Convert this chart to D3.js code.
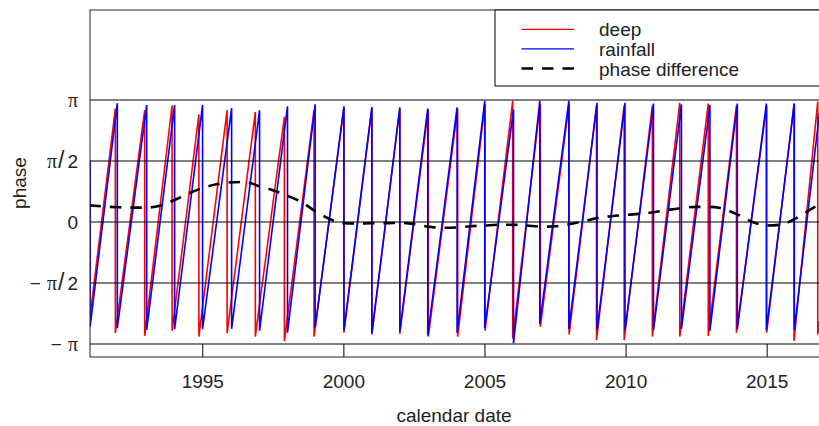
<!DOCTYPE html>
<html>
<head>
<meta charset="utf-8">
<script src="https://cdn.jsdelivr.net/npm/d3@7"></script>
<style>
body { margin: 0; background: #fff; }
svg { display: block; font-family: "Liberation Sans", Arial, sans-serif; }
</style>
</head>
<body>
<svg id="drawing_region"></svg>
<script>
// wrap points of each series: [date, phase just before wrap, phase just after wrap]
const deepStart = [1991.02, -2.45];
const deepWraps = [
    [1991.92, 2.92, -2.86], [1992.96, 2.88, -2.93], [1993.93, 3.00, -2.80],
    [1994.88, 2.77, -2.95], [1995.88, 2.88, -2.86], [1996.88, 2.83, -2.95],
    [1997.91, 2.71, -3.07], [1998.96, 2.88, -2.95], [2000.02, 2.95, -2.85],
    [2001.01, 2.92, -2.90], [2002.00, 2.92, -2.88], [2003.01, 2.90, -2.95],
    [2004.05, 2.92, -2.95], [2005.02, 3.05, -2.80], [2006.00, 3.12, -3.00],
    [2006.98, 3.05, -2.70], [2008.00, 3.05, -2.90], [2008.97, 3.00, -3.04],
    [2009.95, 3.00, -3.04], [2010.95, 3.00, -2.95], [2011.92, 3.07, -2.95],
    [2012.93, 3.05, -2.93], [2013.93, 3.00, -2.85], [2015.00, 3.00, -2.85],
    [2015.97, 3.05, -3.06], [2016.81, 3.10, -2.90]
];
const deepEnd = [2016.87, -2.55];

const rainStart = [1991.02, 1.57];
const rainWraps = [
    [1991.025, 1.57, -2.70],
    [1991.99, 3.06, -2.73], [1993.03, 3.01, -2.78], [1994.02, 3.01, -2.76],
    [1995.01, 3.01, -2.76], [1996.04, 2.93, -2.75], [1997.03, 2.88, -2.80],
    [1998.02, 2.98, -2.85], [1999.00, 3.03, -2.72], [2000.02, 2.98, -2.79],
    [2001.01, 2.96, -2.86], [2002.00, 2.95, -2.82], [2002.99, 2.92, -2.92],
    [2004.03, 2.95, -2.85], [2005.01, 3.12, -2.73], [2006.03, 2.90, -3.12],
    [2006.96, 3.12, -2.62], [2007.99, 3.12, -2.76], [2008.99, 3.07, -2.78],
    [2009.98, 3.07, -2.79], [2010.99, 3.05, -2.79], [2011.98, 3.03, -2.75],
    [2012.99, 3.01, -2.80], [2013.96, 3.05, -2.76], [2014.99, 3.05, -2.79],
    [2015.98, 3.05, -2.78]
];
const rainEnd = [2016.87, 2.80];

const diffDates = [
    1991.0, 1991.5, 1992.0, 1992.5, 1993.0, 1993.5, 1994.0, 1994.5, 1995.0, 1995.5,
    1996.0, 1996.5, 1997.0, 1997.5, 1998.0, 1998.5, 1999.0, 1999.5, 2000.0, 2000.5,
    2001.0, 2001.5, 2002.0, 2002.5, 2003.0, 2003.5, 2004.0, 2004.5, 2005.0, 2005.5,
    2006.0, 2006.5, 2007.0, 2007.5, 2008.0, 2008.5, 2009.0, 2009.5, 2010.0, 2010.5,
    2011.0, 2011.5, 2012.0, 2012.5, 2013.0, 2013.5, 2014.0, 2014.5, 2015.0, 2015.5,
    2016.0, 2016.5, 2016.9
];
const diffValues = [
    0.43, 0.40, 0.38, 0.37, 0.37, 0.42, 0.56, 0.73, 0.87, 0.97,
    1.02, 1.03, 0.93, 0.82, 0.68, 0.52, 0.28, 0.08, -0.03, -0.04,
    -0.03, -0.03, -0.02, -0.05, -0.12, -0.15, -0.14, -0.11, -0.09, -0.07,
    -0.07, -0.09, -0.12, -0.11, -0.06, 0.02, 0.10, 0.15, 0.18, 0.21,
    0.25, 0.31, 0.36, 0.39, 0.39, 0.33, 0.18, 0.00, -0.09, -0.07,
    0.08, 0.30, 0.47
];

const xTicks = [1995, 2000, 2005, 2010, 2015];
const yTicks = [-Math.PI, -Math.PI / 2, 0, Math.PI / 2, Math.PI];
const yTickLabels = ["\u2212\u03c0", "\u2212\u03c0/2", "0", "\u03c0/2", "\u03c0"];

const legendLabels = ["deep", "rainfall", "phase difference"];

// sawtooth vertices: before/after each wrap
const toPoints = (start, wraps, end) =>
    [start].concat(wraps.flatMap(w => [[w[0], w[1]], [w[0], w[2]]])).concat([end]);

const deepPts = toPoints(deepStart, deepWraps, deepEnd);
const rainPts = toPoints(rainStart, rainWraps, rainEnd);
const diffPts = diffDates.map((d, i) => [d, diffValues[i]]);

const cfg = { width: 819, height: 426, left: 90, top: 10, right: 823, bottom: 357 };

const svg = d3.select("#drawing_region")
    .attr("width", cfg.width)
    .attr("height", cfg.height);

const xscale = d3.scaleLinear().domain([1991, 2017]).range([89.4, 823.1]);
const yscale = d3.scaleLinear().domain([-Math.PI, Math.PI]).range([344, 100]);

svg.append("clipPath").attr("id", "clip")
    .append("rect")
    .attr("x", cfg.left).attr("y", cfg.top)
    .attr("width", cfg.right - cfg.left).attr("height", cfg.bottom - cfg.top);

const plot = svg.append("g").attr("clip-path", "url(#clip)");

const line = d3.line().x(d => xscale(d[0])).y(d => yscale(d[1]));

plot.append("path").datum(deepPts)
    .attr("d", line)
    .attr("fill", "none")
    .attr("stroke", "#ff0000")
    .attr("stroke-width", 1.6);

plot.append("path").datum(rainPts)
    .attr("d", line)
    .attr("fill", "none")
    .attr("stroke", "#0000ff")
    .attr("stroke-width", 1.6);

plot.selectAll(".hline")
    .data(yTicks)
    .enter()
    .append("line")
    .attr("class", "hline")
    .attr("x1", cfg.left).attr("x2", cfg.right)
    .attr("y1", d => yscale(d)).attr("y2", d => yscale(d))
    .attr("stroke", "#000")
    .attr("stroke-width", 1);

plot.append("path").datum(diffPts)
    .attr("d", d3.line().curve(d3.curveMonotoneX).x(d => xscale(d[0])).y(d => yscale(d[1])))
    .attr("fill", "none")
    .attr("stroke", "#000")
    .attr("stroke-width", 2.6)
    .attr("stroke-dasharray", "11.5,9");

// x axis, ticks pointing inwards
const xaxis = d3.axisBottom(xscale).tickValues(xTicks).tickFormat(d3.format("d"))
    .tickSizeInner(-13).tickSizeOuter(0).tickPadding(18);
const xaxis_group = svg.append("g")
    .attr("transform", `translate(0,${cfg.bottom})`)
    .call(xaxis);
xaxis_group.select(".domain").remove();
xaxis_group.selectAll(".tick line").attr("stroke", "#000");
xaxis_group.selectAll(".tick text")
    .attr("font-size", 19).attr("font-family", "Liberation Sans, Arial, sans-serif")
    .attr("fill", "#222");

// y axis labels
const yaxis = d3.axisLeft(yscale).tickValues(yTicks).tickSize(0).tickPadding(12);
const yaxis_group = svg.append("g")
    .attr("transform", `translate(${cfg.left},0)`)
    .call(yaxis);
yaxis_group.select(".domain").remove();
yaxis_group.selectAll(".tick text")
    .attr("font-size", 19).attr("font-family", "Liberation Sans, Arial, sans-serif")
    .attr("fill", "#222")
    .text(null)
    .each(function(d, i) {
        const t = d3.select(this);
        const chars = Array.from(yTickLabels[i]);
        chars.forEach((c, k) => {
            const prev = k > 0 ? chars[k - 1] : null;
            let dx = 0;
            if (prev === "\u2212") dx = 6;
            if (c === "/") dx = 1;
            if (prev === "/") dx = 3;
            const ts = t.append("tspan").text(c).attr("dx", dx);
            if (c === "\u03c0") ts.attr("font-family", "Liberation Serif, DejaVu Serif, serif").attr("font-size", 20);
            if (c === "/") ts.attr("font-size", 23);
        });
    });

// frame
svg.append("rect")
    .attr("x", cfg.left).attr("y", cfg.top)
    .attr("width", cfg.right - cfg.left).attr("height", cfg.bottom - cfg.top)
    .attr("fill", "none")
    .attr("stroke", "#222")
    .attr("stroke-width", 1);

// axis titles
svg.append("text")
    .attr("x", 454).attr("y", 422)
    .attr("text-anchor", "middle")
    .attr("font-size", 19).attr("fill", "#222")
    .text("calendar date");

svg.append("text")
    .attr("transform", "translate(26,183) rotate(-90)")
    .attr("text-anchor", "middle")
    .attr("font-size", 19).attr("fill", "#222")
    .text("phase");

// legend
const legend = svg.append("g");
legend.append("rect")
    .attr("x", 495).attr("y", cfg.top)
    .attr("width", 400).attr("height", 76)
    .attr("fill", "#fff")
    .attr("stroke", "#000");

const legendStyles = [
    { color: "#ff0000", width: 1.3, dash: null },
    { color: "#0000ff", width: 1.3, dash: null },
    { color: "#000", width: 2.6, dash: "11.5,9" }
];

legendLabels.forEach((label, i) => {
    const ly = 29.3 + i * 19.6;
    legend.append("line")
        .attr("x1", 521.5).attr("x2", 574)
        .attr("y1", ly).attr("y2", ly)
        .attr("stroke", legendStyles[i].color)
        .attr("stroke-width", legendStyles[i].width)
        .attr("stroke-dasharray", legendStyles[i].dash);
    legend.append("text")
        .attr("x", 599).attr("y", ly + 7)
        .attr("font-size", 19).attr("fill", "#222")
        .text(label);
});
</script>
</body>
</html>
